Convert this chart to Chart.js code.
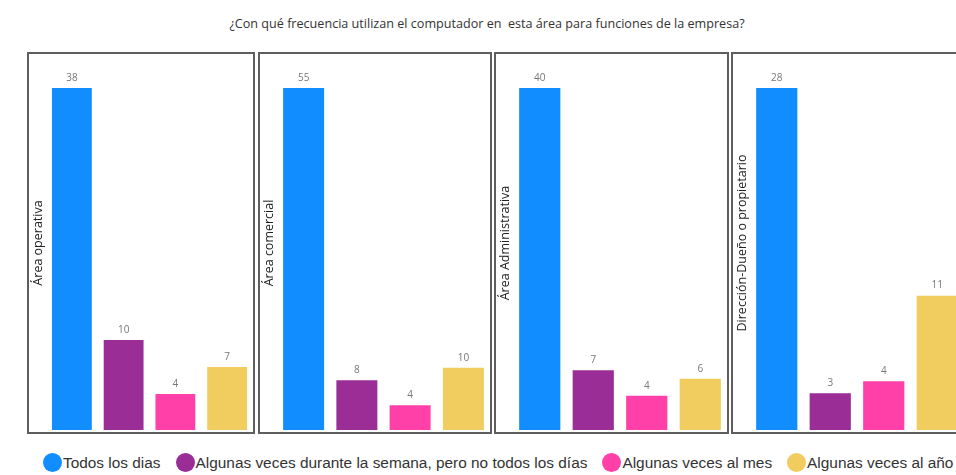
<!DOCTYPE html>
<html>
<head>
<meta charset="utf-8">
<script src="https://cdn.jsdelivr.net/npm/chart.js@4"></script>
<style>
  body { margin: 0; width: 956px; height: 475px; overflow: hidden; background: #fff; position: relative; }
  #title { position: absolute; top: 15px; left: 0; width: 974px; text-align: center; white-space: pre;
           font-family: "Open Sans", sans-serif; font-size: 12.6px; color: #333; }
  .panel { position: absolute; top: 52px; height: 378px; border: 2px solid #5e5e5e; }
  #legend { position: absolute; top: 453px; left: 43px; display: flex; white-space: nowrap;
            font-family: "Liberation Sans", Arial, sans-serif; font-size: 15.4px; color: #333; }
  #legend span.item { display: flex; align-items: center; margin-right: 15px; }
  #legend span.dot { width: 19px; height: 19px; border-radius: 50%; margin-right: 1px; }
</style>
</head>
<body>
<div id="title">¿Con qué frecuencia utilizan el computador en  esta área para funciones de la empresa?</div>
<div id="panels"></div>
<div id="legend"></div>
<script>
// areas (one panel each)
var categories = ["Área operativa", "Área comercial", "Área Administrativa", "Dirección-Dueño o propietario"];

// series
var seriesNames = ["Todos los dias", "Algunas veces durante la semana, pero no todos los días", "Algunas veces al mes", "Algunas veces al año"];
var todosLosDias = [38, 55, 40, 28];
var durante_semana = [10, 8, 7, 3];
var veces_mes = [4, 4, 4, 4];
var veces_anio = [7, 10, 6, 11];
var seriesColors = ["#118DFF", "#9B2E96", "#FF40A8", "#F0CD5E"];

var allSeries = [todosLosDias, durante_semana, veces_mes, veces_anio];

// panel placement
var panelLeft = [27, 258, 494, 731];
var panelWidth = [224, 230, 231, 231];

// value labels over each bar
var barLabels = {
  id: "barLabels",
  afterDatasetsDraw: function(chart) {
    var ctx = chart.ctx;
    ctx.save();
    ctx.font = "10px 'Open Sans', sans-serif";
    ctx.fillStyle = "#777";
    ctx.textAlign = "center";
    ctx.textBaseline = "bottom";
    chart.data.datasets.forEach(function(ds, i) {
      var meta = chart.getDatasetMeta(i);
      meta.data.forEach(function(bar, j) {
        ctx.fillText(ds.data[j], bar.x, bar.y - 5);
      });
    });
    ctx.restore();
  }
};

// area name written up the left side of the panel
var areaName = {
  id: "areaName",
  afterDraw: function(chart) {
    var ctx = chart.ctx;
    ctx.save();
    ctx.translate(9, chart.height / 2);
    ctx.rotate(-Math.PI / 2);
    ctx.font = "12.5px 'Open Sans', sans-serif";
    ctx.fillStyle = "#222";
    ctx.textAlign = "center";
    ctx.textBaseline = "middle";
    ctx.fillText(chart.data.labels[0], 0, 0);
    ctx.restore();
  }
};

var panels = document.getElementById("panels");
categories.forEach(function(cat, k) {
  var div = document.createElement("div");
  div.className = "panel";
  div.style.left = panelLeft[k] + "px";
  div.style.width = panelWidth[k] + "px";
  var canvas = document.createElement("canvas");
  div.appendChild(canvas);
  panels.appendChild(div);

  var values = allSeries.map(function(s) { return s[k]; });

  new Chart(canvas.getContext("2d"), {
    type: "bar",
    data: {
      labels: [cat],
      datasets: seriesNames.map(function(name, i) {
        return { label: name, data: [allSeries[i][k]], backgroundColor: seriesColors[i] };
      })
    },
    options: {
      responsive: true,
      maintainAspectRatio: false,
      animation: false,
      categoryPercentage: 1,
      barPercentage: 0.77,
      layout: { padding: { top: 34, bottom: 2, left: 17, right: 0 } },
      plugins: { legend: { display: false }, tooltip: { enabled: false } },
      scales: {
        x: { display: false },
        y: {
          display: false,
          min: 0,
          max: Math.max.apply(null, values)
        }
      }
    },
    plugins: [barLabels, areaName]
  });
});

// legend
var legend = document.getElementById("legend");
seriesNames.forEach(function(name, i) {
  var item = document.createElement("span");
  item.className = "item";
  var dot = document.createElement("span");
  dot.className = "dot";
  dot.style.background = seriesColors[i];
  item.appendChild(dot);
  item.appendChild(document.createTextNode(name));
  legend.appendChild(item);
});
</script>
</body>
</html>
